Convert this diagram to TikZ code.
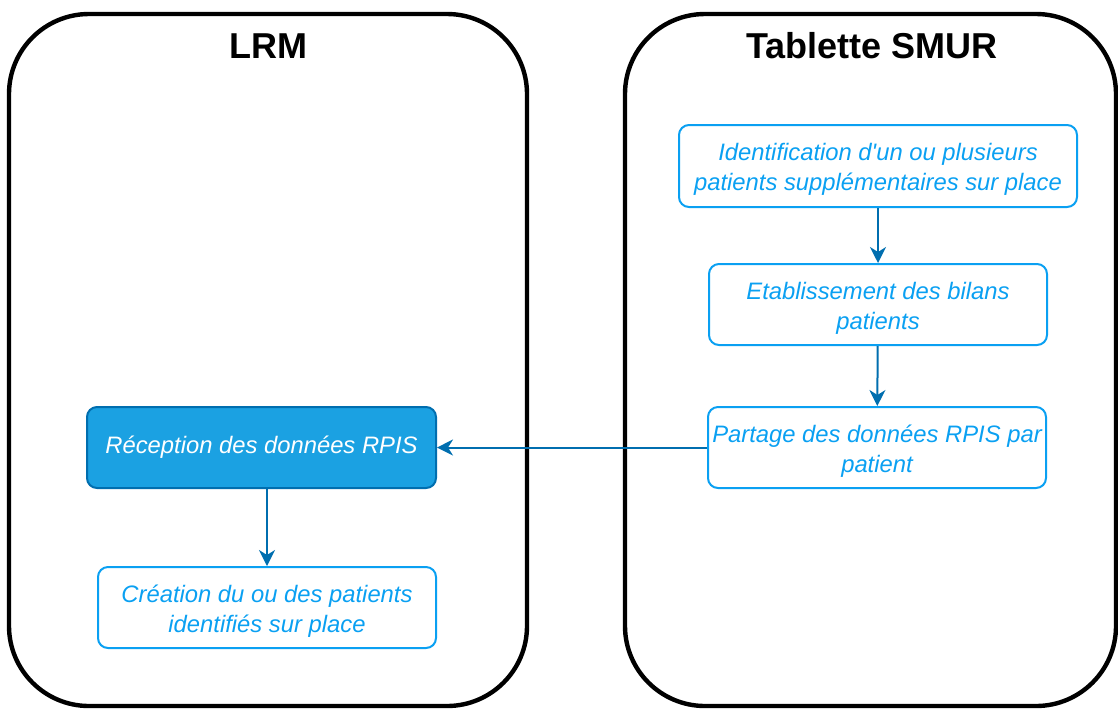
\documentclass[tikz,border=0pt]{standalone}
\usepackage{fontspec}
\setmainfont{Liberation Sans}
\usetikzlibrary{arrows.meta}

\definecolor{lightblue}{HTML}{0AA0F2}
\definecolor{fillblue}{HTML}{1BA1E2}
\definecolor{darkblue}{HTML}{006EAF}
\newcommand\topstrut{\rule{0pt}{12pt}}

\begin{document}
\begin{tikzpicture}[x=0.5pt,y=-0.5pt]

      \useasboundingbox (0,0) rectangle (1118,709);

      % the two lanes
      \begin{scope}[line width=2.2pt,rounded corners=40pt]
        \draw (9,14) rectangle (527,706);
        \draw (625,14) rectangle (1116,706);
      \end{scope}

      \begin{scope}[every node/.style={font=\fontsize{18}{22}\selectfont\bfseries}]
        \node (lrm)  at (268,46) {LRM};
        \node (smur) at (872,46) {Tablette SMUR};
      \end{scope}

      \begin{scope}[every node/.style={draw=lightblue,text=lightblue,line width=1pt,
          rounded corners=5pt,align=center,inner sep=0pt,minimum width=169pt,minimum height=40.5pt,
          font=\fontsize{11.9}{15}\selectfont\itshape}]
        \node (1) at (878,166) [minimum width=199pt,minimum height=41pt]
          {\topstrut Identification d\textquotesingle un ou plusieurs\\patients supplémentaires sur place};
        \node (2) at (878,304.5) {\topstrut Etablissement des bilans\\patients};
        \node (3) at (877,447.5) {\topstrut Partage des données RPIS par\\patient};
        \node (4) at (261.5,447.5) [fill=fillblue,draw=darkblue,text=white,minimum width=174.5pt]
          {Réception des données RPIS};
        \node (5) at (267,607.5) {\topstrut Création du ou des patients\\identifiés sur place};
      \end{scope}

      \begin{scope}[every edge/.style={draw=darkblue,line width=1pt,
          -{Stealth[length=8pt,width=8pt,inset=2.5pt]}}]
        \path (1) edge (2);
        \path (2) edge (3);
        \path (3) edge (4);
        \path (4.south -| 5) edge (5);
      \end{scope}

    \end{tikzpicture}
\end{document}
